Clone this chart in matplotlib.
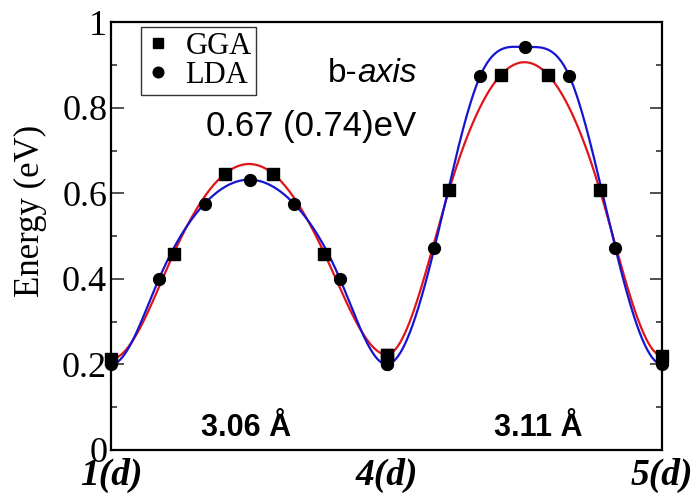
import numpy as np
import matplotlib
matplotlib.use("Agg")
import matplotlib.pyplot as plt
from matplotlib.ticker import MultipleLocator

# ---- data ----
site_labels = ["1(d)", "4(d)", "5(d)"]
gga_pos = [0.0, 0.226, 0.413, 0.587, 0.774, 1.0]          # fractional position within a hop
gga_hop1 = [0.213, 0.459, 0.646, 0.646, 0.459, 0.223]
gga_hop2 = [0.223, 0.607, 0.876, 0.876, 0.607, 0.220]
lda_pos = [0.0, 0.173, 0.339, 0.502, 0.663, 0.830, 1.0]
lda_hop1 = [0.200, 0.400, 0.576, 0.632, 0.576, 0.400, 0.200]
lda_hop2 = [0.200, 0.472, 0.874, 0.942, 0.874, 0.472, 0.200]
hop_lengths = ["3.06 Å", "3.11 Å"]
barrier_text = "0.67 (0.74)eV"


def clamped_spline(x, y, xs):
    """Cubic spline through (x, y) with zero end slopes."""
    x = np.asarray(x, float); y = np.asarray(y, float)
    n = len(x) - 1
    h = np.diff(x)
    A = np.zeros((n + 1, n + 1)); b = np.zeros(n + 1)
    A[0, 0], A[0, 1] = 2 * h[0], h[0]
    b[0] = 6 * ((y[1] - y[0]) / h[0])
    for i in range(1, n):
        A[i, i - 1] = h[i - 1]
        A[i, i] = 2 * (h[i - 1] + h[i])
        A[i, i + 1] = h[i]
        b[i] = 6 * ((y[i + 1] - y[i]) / h[i] - (y[i] - y[i - 1]) / h[i - 1])
    A[n, n - 1], A[n, n] = h[n - 1], 2 * h[n - 1]
    b[n] = 6 * (0 - (y[n] - y[n - 1]) / h[n - 1])
    M = np.linalg.solve(A, b)
    idx = np.clip(np.searchsorted(x, xs) - 1, 0, n - 1)
    x0, x1 = x[idx], x[idx + 1]; hh = x1 - x0
    return (M[idx] * (x1 - xs) ** 3 / (6 * hh) + M[idx + 1] * (xs - x0) ** 3 / (6 * hh)
            + (y[idx] - M[idx] * hh ** 2 / 6) * (x1 - xs) / hh
            + (y[idx + 1] - M[idx + 1] * hh ** 2 / 6) * (xs - x0) / hh)


plt.rcParams['font.family'] = ['Liberation Serif', 'DejaVu Serif']

fig = plt.figure(figsize=(7.0, 4.96), dpi=100)
ax = fig.add_axes([0.159, 0.093, 0.787, 0.862])

fine = np.linspace(0, 1, 300)
for k, (g, l) in enumerate([(gga_hop1, lda_hop1), (gga_hop2, lda_hop2)]):
    gx = np.array(gga_pos) + k
    lx = np.array(lda_pos) + k
    ax.plot(fine + k, clamped_spline(gx, g, fine + k), color='#e0141b', lw=1.6, zorder=2)
    ax.plot(fine + k, clamped_spline(lx, l, fine + k), color='#1515d0', lw=1.6, zorder=3)
    ax.plot(gx, g, 's', color='black', ms=8, zorder=5, clip_on=False,
            label='GGA' if k == 0 else None)
    ax.plot(lx, l, 'o', color='black', ms=8.5, zorder=6, clip_on=False,
            label='LDA' if k == 0 else None)

ax.set_xlim(0, 2)
ax.set_ylim(0, 1)
ax.set_xticks([0, 1, 2])
ax.set_xticklabels(site_labels, fontsize=27, fontweight='bold', fontstyle='italic')
ax.tick_params(axis='x', length=0, pad=6)
ax.yaxis.set_major_locator(MultipleLocator(0.2))
ax.yaxis.set_minor_locator(MultipleLocator(0.1))
ax.set_yticks([0, 0.2, 0.4, 0.6, 0.8, 1.0])
ax.set_yticklabels(["0", "0.2", "0.4", "0.6", "0.8", "1"])
ax.tick_params(axis='y', which='both', direction='in', right=True, labelsize=26, pad=3,
               color='#333333', width=1.2)
ax.tick_params(axis='y', which='major', length=9)
ax.tick_params(axis='y', which='minor', length=4.5)
for s in ax.spines.values():
    s.set_linewidth(1.6)

fig.text(30 / 700, 1 - 211 / 496, "Energy (eV)", fontsize=25, rotation=90,
         ha='center', va='center')

leg = ax.legend(loc='upper left', bbox_to_anchor=(0.054, 0.988), borderaxespad=0,
                fontsize=22, frameon=True, fancybox=False, handlelength=0.8,
                handletextpad=0.5, borderpad=0.15, labelspacing=0.0, markerscale=0.9)
leg.get_frame().set_edgecolor('black')
leg.get_frame().set_linewidth(1.0)

tb = ax.text(0.785, 0.86, "b-", fontsize=24, family=['Liberation Sans'], ha='left',
             va='baseline')
ax.annotate("axis", xy=(1, 0), xycoords=tb, fontsize=24, family=['Liberation Sans'],
            style='italic', ha='left', va='bottom')
ax.text(0.726, 0.756, barrier_text, fontsize=25, family=['Liberation Sans'],
        ha='center', va='center')
ax.text(0.49, 0.05, hop_lengths[0], fontsize=22, family=['Liberation Sans'],
        fontweight='bold', ha='center', va='center')
ax.text(1.55, 0.05, hop_lengths[1], fontsize=22, family=['Liberation Sans'],
        fontweight='bold', ha='center', va='center')

fig.savefig("out.png", dpi=100)
